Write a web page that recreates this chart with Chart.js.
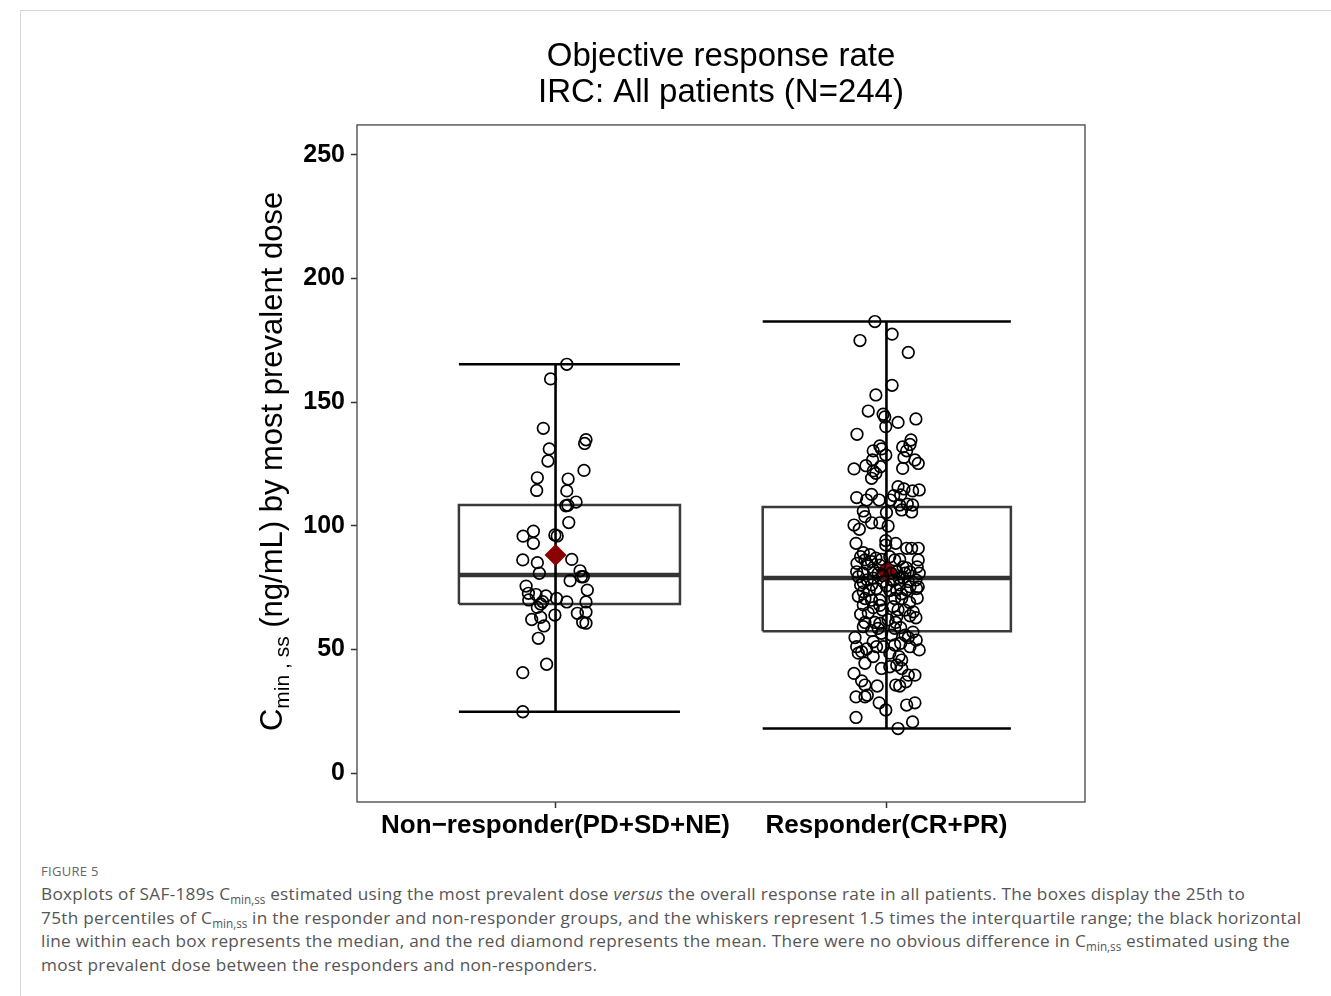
<!DOCTYPE html>
<html>
<head>
<meta charset="utf-8">
<title>Objective response rate</title>
<script src="https://cdn.jsdelivr.net/npm/chart.js@4.4.1/dist/chart.umd.min.js"></script>
<style>
  body { margin: 0; background: #fff; }
  #frame { position: absolute; left: 20px; top: 10px; width: 1311px; height: 986px;
           border-left: 1px solid #d6d6d6; border-top: 1px solid #d6d6d6; }
  #wrap { position: absolute; left: 0; top: 0; width: 1331px; height: 850px; }
  #caption { position: absolute; left: 41px; top: 862px; color: #555;
             font-family: "Open Sans", Lato, sans-serif; white-space: nowrap; }
  #caption .fig { font-size: 13px; letter-spacing: 0.3px; color: #666; margin-bottom: 2px; }
  #caption .txt { font-size: 17.2px; line-height: 23.7px; letter-spacing: 0.3px; }
  #caption sub { font-size: 0.68em; line-height: 0; vertical-align: -0.35em; letter-spacing: 0; }
</style>
</head>
<body>
<div id="frame"></div>
<div id="wrap"><canvas id="orr"></canvas></div>
<div id="caption">
  <div class="fig">FIGURE 5</div>
  <div class="txt">Boxplots of SAF-189s C<sub>min,ss</sub> estimated using the most prevalent dose <i>versus</i> the overall response rate in all patients. The boxes display the 25th to<br>75th percentiles of C<sub>min,ss</sub> in the responder and non-responder groups, and the whiskers represent 1.5 times the interquartile range; the black horizontal<br>line within each box represents the median, and the red diamond represents the mean. There were no obvious difference in C<sub>min,ss</sub> estimated using the<br>most prevalent dose between the responders and non-responders.</div>
</div>
<script>
var categories = ['Non\u2212responder(PD+SD+NE)', 'Responder(CR+PR)'];
var yTicks = [0, 50, 100, 150, 200, 250];

// box statistics per group
var whiskerLow = [24.8, 18.0];
var q1 = [68.4, 57.4];
var median = [80.1, 78.9];
var q3 = [108.4, 107.6];
var whiskerHigh = [165.3, 182.6];
var means = [88.2, 81.7];

// Cmin,ss per patient and horizontal jitter (category units)
var nonRespConc = [165.3, 159.4, 139.4, 134.8, 133.3, 131.1, 126.2, 122.4, 119.4, 118.9,
  114.3, 114.1, 109.6, 108.1, 108.3, 101.3, 97.8, 95.8, 92.9, 96.3,
  95.9, 86.2, 85.1, 86.4, 80.8, 81.8, 79.4, 79.4, 77.8, 75.6,
  74.0, 72.7, 72.2, 71.6, 70.0, 69.3, 70.6, 69.2, 69.2, 67.0,
  68.4, 64.6, 65.1, 63.9, 62.1, 63.0, 61.0, 60.6, 59.5, 54.5,
  44.0, 40.6, 24.8];
var nonRespJitter = [0.034, -0.015, -0.037, 0.092, 0.088, -0.019, -0.023, 0.086, -0.055, 0.038,
  -0.057, 0.034, 0.062, 0.031, 0.037, 0.040, -0.067, -0.098, -0.067, -0.002,
  0.005, -0.099, -0.055, 0.049, -0.049, 0.074, 0.078, 0.084, 0.044, -0.089,
  0.096, -0.082, -0.059, -0.029, -0.081, -0.039, 0.003, 0.034, 0.092, -0.055,
  -0.045, 0.066, 0.092, -0.002, -0.072, -0.045, 0.082, 0.092, -0.035, -0.052,
  -0.027, -0.099, -0.099];

var respConc = [182.6, 177.5, 174.9, 170.1, 156.8, 152.9, 146.4, 145.1, 144.0, 143.2,
  141.8, 140.1, 137.0, 134.7, 132.3, 132.9, 131.9, 130.3, 131.1, 130.3,
  128.6, 126.6, 127.6, 126.6, 125.2, 124.3, 123.9, 123.0, 123.2, 122.2,
  121.2, 119.2, 115.8, 114.9, 114.1, 114.5, 112.5, 112.7, 111.4, 110.4,
  110.4, 112.2, 110.4, 108.7, 108.4, 108.4, 106.0, 105.4, 103.7, 101.2,
  106.4, 105.6, 100.3, 98.6, 101.2, 99.9, 92.9, 94.0, 92.2, 92.9,
  90.9, 90.9, 90.9, 89.1, 87.5, 86.2, 85.5, 86.9, 86.4, 87.5,
  86.2, 86.4, 86.2, 84.8, 84.5, 84.1, 83.4, 83.4, 81.4, 80.8,
  82.1, 80.8, 80.8, 81.4, 80.8, 81.4, 80.8, 79.4, 78.1, 78.8,
  77.4, 77.8, 78.8, 77.4, 78.1, 76.1, 76.1, 75.6, 76.1, 75.3,
  75.3, 73.3, 74.0, 74.6, 74.0, 74.0, 74.6, 70.6, 69.9, 69.9,
  70.6, 70.6, 70.8, 68.0, 66.9, 65.9, 67.3, 65.9, 65.2, 64.2,
  63.2, 63.6, 62.8, 60.9, 60.9, 60.5, 60.9, 59.2, 58.5, 58.5,
  58.8, 55.8, 54.8, 55.8, 54.8, 51.1, 53.1, 51.1, 51.1, 51.8,
  52.5, 51.1, 49.8, 48.5, 49.1, 48.5, 47.1, 47.1, 45.7, 44.4,
  42.3, 43.0, 43.7, 42.3, 40.3, 37.3, 39.6, 39.6, 36.9, 35.6,
  35.2, 35.6, 35.2, 30.8, 30.8, 31.5, 28.4, 25.5, 27.5, 28.4,
  22.5, 20.7, 18.0, 88.3, 83.0, 79.9, 79.0, 77.0, 73.8, 72.5,
  71.5, 69.0, 67.8, 66.0, 64.8, 62.0, 57.6, 57.0, 56.5, 53.8,
  50.2];
var respJitter = [-0.035, 0.017, -0.080, 0.066, 0.017, -0.032, -0.055, -0.010, -0.005, 0.089,
  0.035, -0.002, -0.089, 0.074, -0.020, 0.071, 0.049, -0.040, -0.015, 0.061,
  -0.002, -0.042, 0.053, 0.086, 0.096, -0.062, -0.018, -0.098, 0.049, -0.040,
  -0.032, -0.045, 0.035, 0.053, 0.079, 0.099, 0.043, -0.045, -0.090, -0.060,
  -0.022, 0.022, 0.012, 0.063, 0.040, 0.079, -0.070, 0.000, -0.065, -0.045,
  0.046, 0.076, -0.098, -0.082, -0.020, 0.005, -0.092, -0.002, -0.002, 0.028,
  0.061, 0.076, 0.096, -0.070, -0.078, -0.065, -0.045, -0.032, -0.015, 0.010,
  0.025, 0.040, 0.096, -0.089, -0.058, -0.020, 0.050, 0.093, -0.090, -0.070,
  -0.040, -0.025, 0.015, 0.031, 0.056, 0.071, 0.099, -0.085, -0.058, -0.040,
  -0.010, 0.020, 0.038, 0.066, 0.089, -0.078, -0.045, 0.000, 0.040, 0.071,
  0.096, -0.070, -0.052, -0.030, 0.031, 0.061, 0.091, -0.065, -0.045, -0.020,
  0.025, 0.046, 0.093, -0.070, -0.040, -0.012, 0.020, 0.056, 0.081, -0.078,
  0.031, 0.071, 0.089, -0.065, -0.035, -0.020, 0.028, -0.070, -0.025, 0.025,
  0.043, 0.056, -0.095, 0.015, 0.066, -0.090, -0.040, -0.030, -0.010, 0.025,
  0.043, 0.071, 0.099, -0.085, -0.075, 0.010, -0.040, 0.038, 0.046, -0.065,
  -0.015, 0.010, 0.031, 0.046, -0.098, -0.075, 0.066, 0.086, 0.059, -0.065,
  -0.028, 0.028, 0.040, -0.092, -0.065, -0.058, -0.022, -0.002, 0.061, 0.086,
  -0.092, 0.079, 0.035, -0.050, 0.060, -0.012, 0.050, -0.070, 0.010, 0.045,
  -0.085, 0.070, -0.020, 0.035, -0.055, 0.005, -0.045, 0.080, -0.015, 0.090,
  -0.060];

// box / cap extent left and right of each group centre
var BOX_LEFT = [0.292, 0.374];
var BOX_RIGHT = [0.376, 0.376];
var FONT = '"Liberation Sans", Arial, sans-serif';

function jittered(conc, jit, pos) {
  return conc.map(function(v, i) { return { x: pos + jit[i], y: v }; });
}

function seg(points, width, color, order) {
  return {
    type: 'line', data: points, borderColor: color, borderWidth: width,
    pointRadius: 0, fill: false, tension: 0, order: order
  };
}

var datasets = [];
for (var g = 0; g < 2; g++) {
  var c = g + 1, l = c - BOX_LEFT[g], r = c + BOX_RIGHT[g];
  datasets.push(seg([{x: l, y: q1[g]}, {x: r, y: q1[g]}, {x: r, y: q3[g]},
                     {x: l, y: q3[g]}, {x: l, y: q1[g]}], 2.5, '#3a3a3a', 5));
  datasets.push(seg([{x: l, y: median[g]}, {x: r, y: median[g]}], 4.5, '#333', 4));
  datasets.push(seg([{x: c, y: whiskerLow[g]}, {x: c, y: whiskerHigh[g]}], 2.6, '#000', 3));
  datasets.push(seg([{x: l, y: whiskerLow[g]}, {x: r, y: whiskerLow[g]}], 2.6, '#000', 3));
  datasets.push(seg([{x: l, y: whiskerHigh[g]}, {x: r, y: whiskerHigh[g]}], 2.6, '#000', 3));
}
datasets.push({
  type: 'scatter', data: means.map(function(m, i) { return { x: i + 1, y: m }; }),
  pointStyle: 'rectRot', pointRadius: 11, backgroundColor: '#8b0000', borderColor: '#8b0000',
  borderWidth: 0, order: 2
});
datasets.push({
  type: 'scatter',
  data: jittered(nonRespConc, nonRespJitter, 1).concat(jittered(respConc, respJitter, 2)),
  pointRadius: 5.8, borderWidth: 1.7, borderColor: '#000', backgroundColor: 'rgba(0,0,0,0)',
  order: 1
});

// panel outline and the y-axis title with its subscript
var panelPlugin = {
  id: 'panel',
  afterDraw: function(chart) {
    var a = chart.chartArea, ctx = chart.ctx;
    ctx.save();
    ctx.strokeStyle = '#444';
    ctx.lineWidth = 1.3;
    ctx.strokeRect(a.left, a.top, a.right - a.left, a.bottom - a.top);

    var big = '31px ' + FONT, small = '21px ' + FONT;
    var rest = ' (ng/mL) by most prevalent dose';
    ctx.font = big;
    var wC = ctx.measureText('C').width, wRest = ctx.measureText(rest).width;
    ctx.font = small;
    var wSub = ctx.measureText('min , ss').width;
    var total = wC + wSub + wRest;
    ctx.translate(282, (a.top + a.bottom) / 2 - 2);
    ctx.rotate(-Math.PI / 2);
    ctx.fillStyle = '#000';
    ctx.textBaseline = 'alphabetic';
    ctx.textAlign = 'left';
    var x0 = -total / 2;
    ctx.font = big;
    ctx.fillText('C', x0, 0);
    ctx.font = small;
    ctx.fillText('min , ss', x0 + wC, 7);
    ctx.font = big;
    ctx.fillText(rest, x0 + wC + wSub, 0);
    ctx.restore();
  }
};

new Chart(document.getElementById('orr'), {
  type: 'scatter',
  data: { datasets: datasets },
  plugins: [panelPlugin],
  options: {
    responsive: true,
    maintainAspectRatio: false,
    animation: false,
    layout: { padding: { left: 0, right: 246, top: 0, bottom: 0 } },
    plugins: {
      legend: { display: false },
      tooltip: { enabled: false },
      title: {
        display: true,
        fullSize: false,
        text: ['Objective response rate', 'IRC: All patients (N=244)'],
        color: '#000',
        font: { family: FONT, size: 33, weight: 'normal', lineHeight: 1.09 },
        padding: { top: 39, bottom: 14 }
      }
    },
    scales: {
      x: {
        type: 'linear', min: 0.4, max: 2.6,
        afterBuildTicks: function(s) { s.ticks = [{ value: 1 }, { value: 2 }]; },
        afterFit: function(s) { s.height = 48; },
        ticks: {
          callback: function(v) { return categories[v - 1]; },
          color: '#000', padding: 2,
          font: { family: FONT, size: 26, weight: 'bold' }
        },
        grid: { drawOnChartArea: false, tickLength: 6, tickColor: '#333', tickWidth: 1.5 },
        border: { display: false }
      },
      y: {
        type: 'linear', min: -11.7, max: 262.1,
        afterBuildTicks: function(s) { s.ticks = yTicks.map(function(v) { return { value: v }; }); },
        afterFit: function(s) { s.width = 357; },
        ticks: {
          color: '#000', padding: 6,
          font: { family: FONT, size: 25, weight: 'bold' }
        },
        grid: { drawOnChartArea: false, tickLength: 6, tickColor: '#333', tickWidth: 1.5 },
        border: { display: false }
      }
    }
  }
});
</script>
</body>
</html>
